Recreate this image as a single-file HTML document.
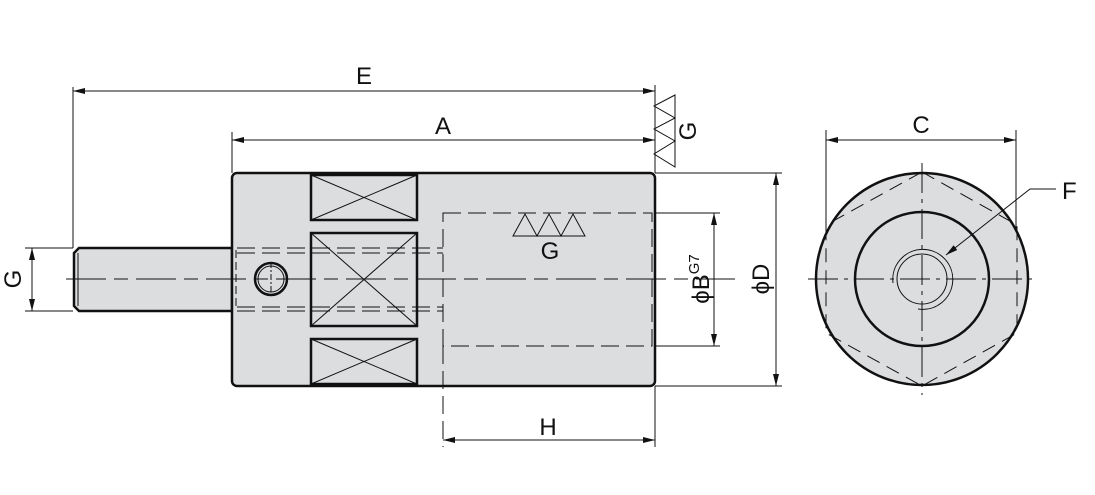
<!DOCTYPE html>
<html><head><style>body{margin:0;background:#fff}svg{display:block}text{font-family:"Liberation Sans",sans-serif;fill:#111}</style></head><body>
<svg width="1095" height="495" viewBox="0 0 1095 495" xmlns="http://www.w3.org/2000/svg">
<defs><marker id="a" viewBox="0 0 12 6" refX="12" refY="3" markerWidth="12" markerHeight="6" orient="auto-start-reverse" markerUnits="userSpaceOnUse"><path d="M0,0L12,3L0,6z" fill="#111"/></marker></defs>
<g stroke="#111" fill="none" stroke-width="1">
<path d="M79,248H232V311H79L74,306V253Z" fill="#dcdddf" stroke-width="2.5"/>
<line x1="78" y1="253" x2="78" y2="306"/>
<rect x="232" y="173" width="423" height="213" rx="5" fill="#dcdddf" stroke-width="2.5"/>
<rect x="311" y="175" width="106" height="45" stroke-width="2.5"/>
<path d="M311,175L417,220M417,175L311,220"/>
<rect x="311" y="233" width="106" height="93" stroke-width="2.5"/>
<path d="M311,233L417,326M417,233L311,326"/>
<rect x="311" y="339" width="106" height="45" stroke-width="2.5"/>
<path d="M311,339L417,384M417,339L311,384"/>
<circle cx="271" cy="279" r="16" stroke-width="2.5"/>
<circle cx="271" cy="279" r="13"/>
<line x1="271" y1="262" x2="271" y2="296" stroke-dasharray="6 2 2 2"/>
<g stroke-dasharray="18 7">
<path d="M237,248H443M237,253H443M237,307H443M237,311H443"/>
<path d="M443,213H652V346H443Z"/>
<path d="M443,346V447"/>
</g>
<path d="M236,250V309" stroke-dasharray="8 4"/>
<path d="M66,279H735" stroke-dasharray="40 8 14 8"/>
<path d="M513,236L525,214L537,236L549,214L561,236L573,214L585,236Z"/>
<path d="M675,95L654,106L675,118L654,129L675,141L654,154L675,167Z"/>
<line x1="73" y1="87" x2="73" y2="248"/>
<line x1="655" y1="85" x2="655" y2="173"/>
<line x1="73" y1="91" x2="655" y2="91" marker-start="url(#a)" marker-end="url(#a)"/>
<line x1="232" y1="132" x2="232" y2="173"/>
<line x1="232" y1="140" x2="655" y2="140" marker-start="url(#a)" marker-end="url(#a)"/>
<path d="M25,248H73M25,311H73"/>
<line x1="32" y1="248" x2="32" y2="311" marker-start="url(#a)" marker-end="url(#a)"/>
<path d="M655,213H720M655,346H720"/>
<line x1="714" y1="213" x2="714" y2="346" marker-start="url(#a)" marker-end="url(#a)"/>
<path d="M655,173H782M655,386H782"/>
<line x1="776" y1="173" x2="776" y2="386" marker-start="url(#a)" marker-end="url(#a)"/>
<line x1="655" y1="386" x2="655" y2="447"/>
<line x1="443" y1="440" x2="655" y2="440" marker-start="url(#a)" marker-end="url(#a)"/>
<circle cx="922" cy="279" r="106" fill="#dcdddf" stroke-width="2.5"/>
<path d="M922,172L1017,225V333L922,386L826,333V225Z" stroke-dasharray="14 8"/>
<circle cx="922" cy="279" r="67" stroke-width="2.5"/>
<circle cx="922" cy="279" r="25"/>
<path d="M893,283A30,30 0 1 1 918,309"/>
<path d="M808,279H1036M922,163V395" stroke-dasharray="30 6 4 6"/>
<path d="M826,130V228M1016,130V228"/>
<line x1="826" y1="140" x2="1016" y2="140" marker-start="url(#a)" marker-end="url(#a)"/>
<path d="M1056,189H1030L946,255" marker-end="url(#a)"/>
</g>
<g font-size="24">
<text x="364" y="84" text-anchor="middle">E</text>
<text x="443" y="134" text-anchor="middle">A</text>
<text x="548" y="435" text-anchor="middle">H</text>
<text x="921" y="133" text-anchor="middle">C</text>
<text x="1062" y="199">F</text>
<text x="550" y="259" text-anchor="middle">G</text>
<text transform="translate(21,279) rotate(-90)" text-anchor="middle">G</text>
<text transform="translate(696,131) rotate(-90)" text-anchor="middle">G</text>
<text transform="translate(709,279) rotate(-90)" text-anchor="middle">ϕB<tspan font-size="15" dy="-10">G7</tspan></text>
<text transform="translate(769,279) rotate(-90)" text-anchor="middle">ϕD</text>
</g>
</svg>
</body></html>
